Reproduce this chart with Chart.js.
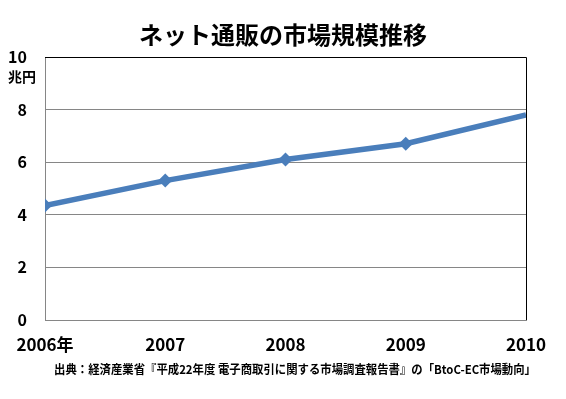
<!DOCTYPE html>
<html>
<head>
<meta charset="utf-8">
<script src="https://cdn.jsdelivr.net/npm/chart.js@4"></script>
<style>
  html, body { margin: 0; padding: 0; background: #fff; }
  #wrap { width: 566px; height: 399px; position: relative; }
</style>
</head>
<body>
<div id="wrap"><canvas id="chart"></canvas></div>
<script>
// data (兆円)
const years = ["2006年", "2007", "2008", "2009", "2010"];
const marketSize = [4.35, 5.3, 6.1, 6.7, 7.8];
const yTicks = [0, 2, 4, 6, 8, 10];

const titleText = "ネット通販の市場規模推移";
const unitText = "兆円";
const sourceText = "出典：経済産業省『平成22年度 電子商取引に関する市場調査報告書』の「BtoC-EC市場動向」";

const FONT = '"Noto Sans CJK JP", "Noto Sans", sans-serif';

// title, unit, source note and the black top/right frame
const decorations = {
    id: 'decorations',
    afterDraw(chart) {
        const ctx = chart.ctx;
        const area = chart.chartArea;
        ctx.save();

        // frame top + right
        ctx.strokeStyle = '#000';
        ctx.lineWidth = 1;
        ctx.beginPath();
        ctx.moveTo(area.left, area.top + 0.5);
        ctx.lineTo(area.right + 0.5, area.top + 0.5);
        ctx.lineTo(area.right + 0.5, area.bottom);
        ctx.stroke();

        ctx.fillStyle = '#000';
        ctx.textAlign = 'center';
        ctx.textBaseline = 'middle';
        ctx.font = 'bold 24px ' + FONT;
        ctx.fillText(titleText, 283, 35);

        ctx.font = 'bold 14px ' + FONT;
        ctx.fillText(unitText, 22, 77);

        ctx.font = 'bold 12px ' + FONT;
        ctx.fillText(sourceText, 295, 369, 482);
        ctx.restore();
    }
};

const ctx = document.getElementById('chart').getContext('2d');
new Chart(ctx, {
    type: 'line',
    data: {
        labels: years,
        datasets: [{
            data: marketSize,
            borderColor: '#4A7EBB',
            backgroundColor: '#4A7EBB',
            borderWidth: 5.5,
            tension: 0,
            clip: 0,
            pointStyle: 'rectRot',
            pointRadius: [7, 7, 7, 7, 0],
            pointBackgroundColor: '#4A7EBB',
            pointBorderColor: '#4A7EBB',
            pointBorderWidth: 0
        }]
    },
    options: {
        responsive: true,
        maintainAspectRatio: false,
        animation: false,
        events: [],
        layout: { padding: { top: 57, right: 40, left: 0, bottom: 0 } },
        plugins: {
            legend: { display: false },
            tooltip: { enabled: false }
        },
        scales: {
            x: {
                type: 'category',
                offset: false,
                afterFit(scale) { scale.height = 79; },
                grid: { display: false, drawTicks: false },
                border: { color: '#868686', width: 1 },
                ticks: {
                    color: '#000',
                    padding: 14,
                    maxRotation: 0,
                    autoSkip: false,
                    font: { family: FONT, size: 17, weight: 'bold' }
                }
            },
            y: {
                min: 0,
                max: 10,
                afterFit(scale) { scale.width = 45; },
                afterBuildTicks(scale) {
                    scale.ticks = yTicks.map(v => ({ value: v }));
                },
                grid: {
                    drawTicks: false,
                    color: c => (c.tick && c.tick.value === 10 ? '#000' : '#868686'),
                    lineWidth: 1
                },
                border: { color: '#868686', width: 1 },
                ticks: {
                    color: '#000',
                    padding: 18,
                    font: { family: FONT, size: 16, weight: 'bold' }
                }
            }
        }
    },
    plugins: [decorations]
});
</script>
</body>
</html>
